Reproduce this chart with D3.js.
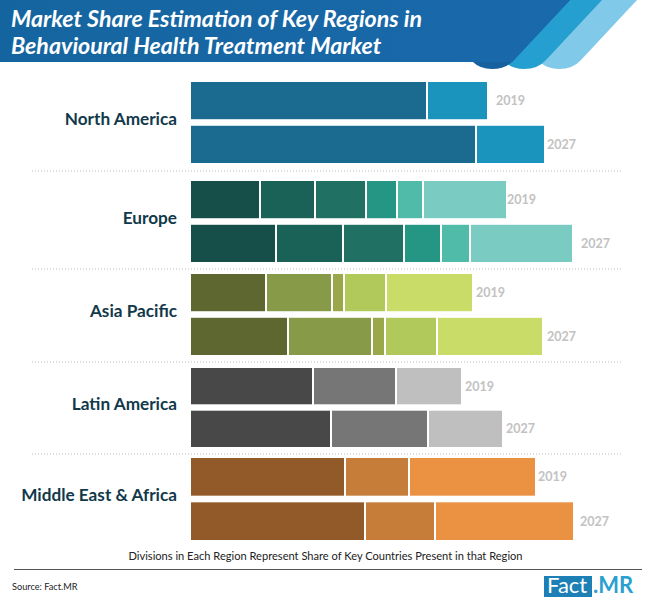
<!DOCTYPE html>
<html lang="en">
<head>
<meta charset="UTF-8">
<title>Market Share Estimation of Key Regions</title>
<script src="https://d3js.org/d3.v7.min.js"></script>
<style>
  html, body { margin: 0; padding: 0; background: #fff; }
  text { font-family: Lato, "Open Sans", sans-serif; }
</style>
</head>
<body>
<svg id="svg" width="650" height="607" style="display:block"></svg>
<script>
const titleLines = ["Market Share Estimation of Key Regions in", "Behavioural Health Treatment Market"];
const regions = ["North America", "Europe", "Asia Pacific", "Latin America", "Middle East & Africa"];
const years = ["2019", "2027"];

// country shares in each region, one list per year
const northAmerica = [[236, 60], [285, 68]];
const europe = [[69, 55, 51, 31, 26, 83], [85, 67, 61, 37, 29, 102]];
const asiaPacific = [[75, 66, 12, 42, 86], [97, 84, 13, 52, 105]];
const latinAmerica = [[122, 83, 65], [140, 97, 74]];
const middleEastAfrica = [[154, 64, 126], [174, 70, 138]];
const regionValues = [northAmerica, europe, asiaPacific, latinAmerica, middleEastAfrica];

const northAmericaColors = ["#1a6b8f", "#1a93bd"];
const europeColors = ["#164f4a", "#1a6157", "#217064", "#269684", "#4fbba8", "#7accc2"];
const asiaPacificColors = ["#5e6730", "#879a47", "#9aa84b", "#b0c95a", "#c9dc68"];
const latinAmericaColors = ["#484848", "#767676", "#bfbfbf"];
const middleEastAfricaColors = ["#925a29", "#c67d39", "#ea9142"];
const regionColors = [northAmericaColors, europeColors, asiaPacificColors, latinAmericaColors, middleEastAfricaColors];

const svg = d3.select("#svg");

// header band and the three slanted stripes
const defs = svg.append("defs");
const grad = defs.append("linearGradient").attr("id", "band");
grad.append("stop").attr("offset", "0").attr("stop-color", "#14659f");
grad.append("stop").attr("offset", "1").attr("stop-color", "#1a69ac");

function stripe(right, fill) {
  const p = d3.path();
  p.moveTo(right - 70, 0);
  p.lineTo(right, 0);
  p.lineTo(right - 56, 60);
  p.quadraticCurveTo(right - 64, 69, right - 78, 69);
  p.quadraticCurveTo(right - 90, 69, right - 97, 62);
  p.closePath();
  svg.append("path").attr("d", p.toString()).attr("fill", fill);
}
stripe(637, "#80c9e8");
stripe(602, "#259fd0");
stripe(570, "#17619f");
svg.append("path").attr("d", "M0,0H570L512,62H0Z").attr("fill", "url(#band)");

svg.append("g").selectAll("text").data(titleLines).join("text")
  .attr("x", 11)
  .attr("y", (d, i) => 27 + i * 27)
  .attr("fill", "#fff")
  .attr("font-size", 23.2)
  .attr("font-weight", 700)
  .attr("font-style", "italic")
  .text(d => d);

// layout scales
const x = d3.scaleLinear().domain([0, 400]).range([191, 591]);
const regionTop = d3.scaleOrdinal(regions, [82, 181, 274, 368, 458]);
const regionBottom = d3.scaleOrdinal(regions, [163, 262, 355, 447, 540]);
const dividerY = d3.scaleOrdinal(regions.slice(0, 4), [171, 269, 362, 454]);
// gap between a bar's end and its year label, it varies by bar in the original
const labelGap = d3.scaleOrdinal(regions, [[9, 3], [1, 9], [4, 5], [4, 4], [3, 7]]);

svg.append("g").selectAll("line").data(regions.slice(0, 4)).join("line")
  .attr("x1", 32).attr("x2", 622)
  .attr("y1", d => dividerY(d)).attr("y2", d => dividerY(d))
  .attr("stroke", "#bdbdbd")
  .attr("stroke-width", 1)
  .attr("stroke-dasharray", "1 2");

regions.forEach((region, r) => {
  const y = d3.scaleBand(years, [regionTop(region), regionBottom(region)]).paddingInner(0.15);
  const color = d3.scaleOrdinal(regionValues[r][0].map((_, i) => i), regionColors[r]);
  const g = svg.append("g");

  years.forEach((year, k) => {
    const vals = regionValues[r][k];
    const ends = d3.cumsum(vals);
    g.append("g").selectAll("rect").data(vals).join("rect")
      .attr("x", (d, i) => x(ends[i] - d) + (i ? 1 : 0))
      .attr("width", (d, i) => x(ends[i]) - x(ends[i] - d) - (i ? 1 : 0) - (i < vals.length - 1 ? 1 : 0))
      .attr("y", y(year))
      .attr("height", y.bandwidth())
      .attr("fill", (d, i) => color(i));
    g.append("text")
      .attr("x", x(ends[ends.length - 1]) + labelGap(region)[k])
      .attr("y", y(year) + y.bandwidth() / 2 + 4.5)
      .attr("fill", "#c2c2c2")
      .attr("font-size", 12.5)
      .attr("font-weight", 700)
      .text(year);
  });

  g.append("text")
    .attr("x", 177)
    .attr("y", (regionTop(region) + regionBottom(region)) / 2 + 2)
    .attr("text-anchor", "end")
    .attr("fill", "#12394a")
    .attr("font-size", 17.2)
    .attr("font-weight", 700)
    .text(region);
});

// footer
svg.append("text")
  .attr("x", 325.5).attr("y", 559.5)
  .attr("text-anchor", "middle")
  .attr("fill", "#222")
  .attr("font-size", 11.1)
  .text("Divisions in Each Region Represent Share of Key Countries Present in that Region");

svg.append("line")
  .attr("x1", 14).attr("x2", 642)
  .attr("y1", 569.5).attr("y2", 569.5)
  .attr("stroke", "#555");

svg.append("text")
  .attr("x", 12).attr("y", 590)
  .attr("fill", "#222")
  .attr("font-size", 9.2)
  .text("Source: Fact.MR");

svg.append("rect")
  .attr("x", 544).attr("y", 576)
  .attr("width", 48).attr("height", 21)
  .attr("fill", "#1c7fb5");
svg.append("text")
  .attr("x", 547).attr("y", 593)
  .attr("fill", "#fff")
  .attr("font-size", 22)
  .text("Fact");
svg.append("text")
  .attr("x", 593).attr("y", 593)
  .attr("fill", "#2a9fd0")
  .attr("font-size", 22)
  .attr("font-weight", 700)
  .text(".MR");
</script>
</body>
</html>
